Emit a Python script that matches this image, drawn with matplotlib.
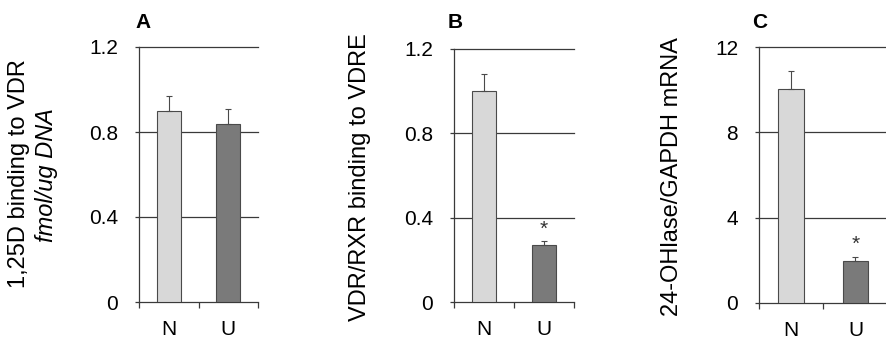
import matplotlib.pyplot as plt

plt.rcParams['font.family'] = ['Liberation Sans', 'DejaVu Sans']

groups = ['N', 'U']
binding_vdr = [0.90, 0.84]
binding_vdr_err = [0.07, 0.07]
binding_vdre = [1.00, 0.27]
binding_vdre_err = [0.08, 0.02]
ohlase_mrna = [10.05, 1.97]
ohlase_mrna_err = [0.82, 0.20]

bar_colors = ['#d8d8d8', '#7a7a7a']
line_col = '#3a3a3a'

fig = plt.figure(figsize=(8.86, 3.39), dpi=100)

W, H = 886.0, 339.0


def panel(left, right, top, bottom, vals, errs, ymax, yticks, ticklabels, star=None):
    ax = fig.add_axes([left / W, 1 - bottom / H, (right - left) / W, (bottom - top) / H])
    x = range(len(groups))
    ax.bar(x, vals, width=0.4, color=bar_colors, edgecolor='#4a4a4a', linewidth=0.8, zorder=3)
    ax.errorbar(x, vals, yerr=[[0, 0], errs], fmt='none', ecolor='#4a4a4a',
                elinewidth=0.8, capsize=2.5, capthick=0.8, zorder=4)
    ax.set_xlim(-0.5, 1.5)
    ax.set_ylim(0, ymax)
    ax.set_yticks(yticks)
    ax.set_yticklabels(ticklabels)
    for t in yticks[1:]:
        ax.axhline(t, color=line_col, lw=0.9, zorder=1, clip_on=False)
    ax.set_xticks(list(x))
    ax.set_xticklabels(groups)
    ax.set_xticks([-0.5, 0.5, 1.5], minor=True)
    ax.tick_params(axis='x', which='major', length=0, pad=13, labelsize=15)
    ax.tick_params(axis='x', which='minor', length=4, width=0.9, color=line_col, direction='out')
    ax.tick_params(axis='y', length=3, width=0.9, color=line_col, pad=12, labelsize=15)
    for s in ['top', 'right']:
        ax.spines[s].set_visible(False)
    for s in ['left', 'bottom']:
        ax.spines[s].set_color(line_col)
        ax.spines[s].set_linewidth(0.9)
    if star is not None:
        ax.text(1, star, '*', ha='center', va='center', fontsize=15, color='#333333')
    return ax


panel(139, 258, 47, 302, binding_vdr, binding_vdr_err, 1.2,
      [0, 0.4, 0.8, 1.2], ['0', '0.4', '0.8', '1.2'])
panel(454, 573.5, 49, 302, binding_vdre, binding_vdre_err, 1.2,
      [0, 0.4, 0.8, 1.2], ['0', '0.4', '0.8', '1.2'], star=0.345)
panel(759, 887.6, 47, 303, ohlase_mrna, ohlase_mrna_err, 12,
      [0, 4, 8, 12], ['0', '4', '8', '12'], star=2.75)

# panel letters
for lx, letter in [(135, 'A'), (448, 'B'), (752, 'C')]:
    fig.text(lx / W, 1 - 22.5 / H, letter, fontsize=15, fontweight='bold', ha='left', va='center')

# y labels
fig.text(19.5 / W, 1 - 174 / H, '1,25D binding to VDR', rotation=90, ha='center', va='center',
         fontsize=17)
fig.text(47 / W, 1 - 175 / H, 'fmol/ug DNA', rotation=90, ha='center', va='center',
         fontsize=17, style='italic')
fig.text(360 / W, 1 - 177 / H, 'VDR/RXR binding to VDRE', rotation=90, ha='center', va='center',
         fontsize=17)
fig.text(672 / W, 1 - 177 / H, '24-OHlase/GAPDH mRNA', rotation=90, ha='center', va='center',
         fontsize=17)

fig.savefig('out.png', dpi=100)
